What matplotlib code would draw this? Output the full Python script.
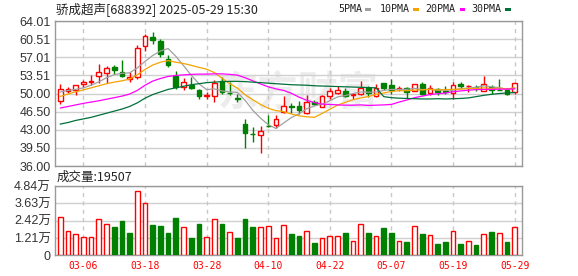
import numpy as np
import matplotlib.pyplot as plt
from matplotlib.patches import Rectangle

# ---- data (688392, 2025-03-03 .. 2025-05-29) ----
title = "骄成超声[688392] 2025-05-29 15:30"
tick_idx = [3, 11, 19, 27, 35, 43, 51, 59]
tick_labels = ["03-06", "03-18", "03-28", "04-10", "04-22", "05-07", "05-19", "05-29"]

opens = [48.55, 50.45, 50.6, 51.85, 52.3, 53.3, 53.95, 55.15, 54.25, 52.9,
         53.2, 59.15, 60.85, 60.15, 56.65, 53.45, 51.2, 51.6, 50.65, 49.45,
         49.45, 52.35, 50.15, 49.05, 44.1, 42.2, 41.9, 43.8, 43.9, 46.35,
         47.5, 47.5, 46.2, 48.4, 47.4, 49.45, 50.1, 50.4, 49.7, 50.0,
         51.05, 49.5, 52.0, 51.65, 50.9, 51.05, 50.55, 51.85, 50.1, 50.8,
         50.45, 50.1, 51.8, 51.4, 51.35, 50.55, 51.35, 50.7, 50.7, 50.2]
highs = [51.8, 51.25, 51.7, 52.7, 53.55, 55.75, 55.25, 55.55, 56.5, 54.15,
         59.45, 61.45, 61.8, 60.6, 57.45, 54.4, 53.05, 53.1, 50.85, 50.2,
         52.65, 53.1, 52.3, 49.95, 45.1, 43.5, 43.75, 45.9, 45.85, 49.5,
         48.15, 48.5, 49.75, 48.8, 49.7, 51.1, 51.5, 51.0, 49.95, 52.5,
         51.45, 51.8, 52.05, 52.8, 51.5, 51.2, 51.9, 52.15, 51.7, 51.15,
         51.5, 52.2, 52.15, 51.6, 51.7, 53.3, 51.7, 52.85, 51.05, 52.1]
lows = [47.9, 50.1, 49.8, 51.25, 51.7, 52.0, 52.0, 53.75, 53.2, 52.2,
        52.85, 58.3, 59.6, 57.05, 55.2, 50.85, 50.6, 50.95, 49.0, 48.9,
        48.45, 49.95, 49.8, 48.45, 39.45, 40.65, 38.6, 43.6, 43.3, 46.2,
        46.2, 46.1, 46.1, 47.75, 47.35, 48.9, 49.95, 49.3, 48.85, 49.75,
        49.3, 49.3, 50.6, 49.85, 50.5, 49.2, 50.4, 49.8, 49.65, 49.7,
        49.95, 48.9, 51.1, 50.3, 50.4, 50.4, 49.85, 50.6, 49.7, 49.95]
closes = [50.85, 50.85, 51.6, 52.2, 52.45, 54.15, 54.95, 54.5, 53.35, 53.15,
          58.8, 61.15, 60.4, 57.6, 55.5, 51.25, 52.2, 51.1, 49.5, 49.7,
          52.05, 50.2, 50.15, 48.95, 42.3, 42.1, 42.8, 43.8, 45.15, 47.5,
          47.35, 46.75, 48.4, 47.9, 49.45, 50.45, 50.6, 49.55, 49.85, 51.1,
          50.1, 51.0, 51.05, 50.65, 51.15, 50.2, 51.85, 49.95, 51.05, 50.2,
          50.3, 51.7, 51.45, 51.55, 51.05, 51.8, 50.6, 50.7, 49.9, 52.05]

ma5 = [50.3, 50.6, 50.8, 51.1, 51.6, 52.25, 53.05, 53.65, 53.9, 54.0,
       54.95, 56.2, 57.35, 58.2, 58.7, 57.2, 55.4, 53.55, 51.9, 50.75,
       50.9, 50.5, 50.3, 50.2, 48.7, 46.75, 45.25, 44.0, 43.25, 44.3,
       45.35, 46.1, 47.05, 47.6, 47.95, 48.6, 49.35, 49.6, 50.0, 50.3,
       50.25, 50.3, 50.6, 50.8, 50.8, 50.8, 51.0, 50.75, 50.85, 50.65,
       50.65, 50.65, 50.95, 51.05, 51.2, 51.5, 51.3, 51.15, 50.8, 51.0]
ma10 = [49.45, 49.9, 50.35, 50.7, 51.1, 51.5, 51.9, 52.2, 52.45, 52.8,
        53.6, 54.65, 55.5, 56.05, 56.35, 56.05, 55.8, 55.45, 55.05, 54.7,
        54.05, 52.95, 51.9, 51.05, 49.75, 48.8, 47.9, 47.15, 46.7, 46.5,
        46.05, 45.7, 45.5, 45.4, 46.15, 46.95, 47.75, 48.3, 48.8, 49.15,
        49.4, 49.85, 50.1, 50.4, 50.55, 50.55, 50.65, 50.7, 50.8, 50.7,
        50.75, 50.8, 50.85, 50.95, 50.95, 51.1, 50.95, 51.05, 50.9, 51.1]
ma20 = [47.2, 47.5, 47.8, 48.1, 48.35, 48.6, 48.9, 49.2, 49.5, 49.9,
        50.6, 51.6, 52.4, 52.9, 53.3, 53.5, 53.6, 53.7, 53.75, 53.75,
        53.8, 53.8, 53.7, 53.55, 53.05, 52.45, 51.85, 51.3, 50.9, 50.6,
        50.05, 49.3, 48.7, 48.25, 47.95, 47.9, 47.8, 47.75, 47.75, 47.8,
        47.7, 47.75, 47.8, 47.9, 48.35, 48.75, 49.2, 49.5, 49.8, 49.95,
        50.1, 50.35, 50.5, 50.65, 50.75, 50.8, 50.8, 50.85, 50.85, 50.9]
ma30 = [44.1, 44.4, 44.8, 45.1, 45.4, 45.8, 46.2, 46.6, 47.0, 47.5,
        48.2, 49.1, 49.8, 50.3, 50.8, 51.1, 51.4, 51.7, 51.9, 52.1,
        52.2, 52.3, 52.35, 52.35, 52.3, 52.2, 52.1, 52.0, 51.9, 51.8,
        51.7, 51.65, 51.6, 51.5, 51.45, 51.4, 51.35, 51.3, 51.25, 51.2,
        51.15, 51.1, 49.4, 49.2, 49.1, 49.05, 49.0, 48.95, 48.95, 49.0,
        48.95, 49.0, 49.05, 49.15, 49.4, 49.65, 49.85, 50.0, 50.1, 50.2]

# volume in 万 shares, and whether the bar is drawn red (1) or green (0)
volume = [2.66, 1.70, 1.47, 1.26, 1.26, 2.52, 2.17, 1.96, 2.40, 1.56,
          4.47, 3.64, 2.12, 2.05, 1.56, 2.61, 1.96, 1.21, 2.19, 1.26,
          2.52, 2.19, 1.63, 1.21, 2.54, 1.98, 1.98, 2.03, 1.21, 2.10,
          1.49, 1.35, 1.70, 0.86, 1.21, 1.35, 1.35, 1.56, 1.00, 2.17,
          1.56, 1.35, 1.91, 1.56, 1.00, 0.93, 2.03, 1.49, 1.42, 0.79,
          0.93, 1.70, 0.79, 1.00, 0.72, 1.49, 1.63, 1.56, 0.93, 1.95]
vol_up = [1, 1, 1, 1, 1, 1, 1, 0, 0, 0,
          1, 1, 0, 0, 0, 0, 1, 0, 0, 1,
          1, 0, 1, 0, 0, 0, 1, 1, 1, 1,
          0, 0, 1, 0, 1, 1, 1, 0, 1, 1,
          0, 1, 0, 0, 1, 0, 1, 0, 1, 0,
          0, 1, 0, 1, 0, 1, 0, 1, 0, 1]
last_volume = 19507

price_ticks = [36.00, 39.50, 43.00, 46.50, 50.00, 53.51, 57.01, 60.51, 64.01]
vol_ticks = [0, 1.21, 2.42, 3.63, 4.84]
vol_tick_labels = ["0", "1.21万", "2.42万", "3.63万", "4.84万"]

ma_names = ["5PMA", "10PMA", "20PMA", "30PMA"]
ma_colors = ["#a0a0a0", "#f5a300", "#ff00ff", "#00703a"]

RED = "#ff0000"
GREEN = "#008000"
GRID = "#d0d0d0"
EDGE = "#999999"

W, H = 578, 276


def box(l, t, r, b):
    return [l / W, 1 - b / H, (r - l) / W, (b - t) / H]


fig = plt.figure(figsize=(W / 100, H / 100), dpi=100)
ax = fig.add_axes(box(55, 21, 522, 166))
axv = fig.add_axes(box(55, 186, 522, 255.3))

x = np.arange(len(closes))
o = np.array(opens)
c = np.array(closes)
up = c > o
lo = np.minimum(o, c)
hi = np.maximum(o, c)
col = np.where(up, RED, GREEN)

# watermark
ax.text(0.52, 0.5, "东方财富", transform=ax.transAxes, fontsize=29,
        color="#ececec", ha="center", va="center", weight="bold",
        style="italic", family=["Noto Sans CJK SC", "DejaVu Sans"], zorder=0)

# candles
ax.vlines(x, lows, lo, colors=col, lw=1, zorder=3)
ax.vlines(x, hi, highs, colors=col, lw=1, zorder=3)
ax.bar(x, hi - lo, bottom=lo, width=0.62,
       facecolor=np.where(up, "white", GREEN), edgecolor=col,
       linewidth=1, zorder=3)

for vals, color in zip([ma5, ma10, ma20, ma30], ma_colors):
    ax.plot(x, vals, color=color, lw=0.9, zorder=4)

# volume bars
vcol = [RED if u else GREEN for u in vol_up]
vface = ["white" if u else GREEN for u in vol_up]
axv.bar(x, volume, width=0.62, facecolor=vface, edgecolor=vcol,
        linewidth=1, zorder=3)

xmin, xmax = -0.69, 59.96
for a in (ax, axv):
    a.set_xlim(xmin, xmax)
    for t in tick_idx:
        a.axvline(t, color="#c8c8c8", lw=1, ls=(0, (3, 3)), zorder=1)
    a.grid(axis="y", color=GRID, lw=1, zorder=1)
    a.set_axisbelow(True)
    for s in a.spines.values():
        s.set_color(EDGE)
        s.set_linewidth(1)
    a.tick_params(length=0)

ax.set_ylim(price_ticks[0], price_ticks[-1])
ax.set_yticks(price_ticks)
ax.set_yticklabels([f"{v:.2f}" for v in price_ticks], fontsize=9,
                   color="#333333", family="Liberation Sans")
ax.tick_params(axis="y", pad=3)
ax.set_xticks([])

axv.set_ylim(0, vol_ticks[-1])
axv.set_yticks(vol_ticks)
axv.set_yticklabels(vol_tick_labels, fontsize=9, color="#333333",
                    family=["Liberation Sans", "Noto Sans CJK SC"])
axv.tick_params(axis="y", pad=3)
axv.set_xticks(tick_idx)
axv.set_xticklabels(tick_labels, fontsize=7, color=RED,
                    family="DejaVu Sans Mono")
axv.tick_params(axis="x", pad=4)

# header texts
fig.text(56 / W, 1 - 9 / H, title, fontsize=9, va="center",
         family=["Noto Sans CJK SC", "DejaVu Sans"], color="#222222")
fig.text(57 / W, 1 - 177.5 / H, f"成交量:{last_volume}", fontsize=9,
         va="center", family=["Noto Sans CJK SC", "DejaVu Sans"],
         color="#222222")

# legend
lx = [338.7, 380, 425.7, 471]
sx = [365, 413, 459.7, 505]
for name, color, tx, px in zip(ma_names, ma_colors, lx, sx):
    fig.text(tx / W, 1 - 9 / H, name, fontsize=7.2, va="center",
             family="DejaVu Sans Mono", color="#222222")
    fig.add_artist(Rectangle((px / W, 1 - 10.5 / H), 5.5 / W, 2.8 / H,
                             transform=fig.transFigure, color=color, lw=0))

fig.savefig("out.png", dpi=100)
